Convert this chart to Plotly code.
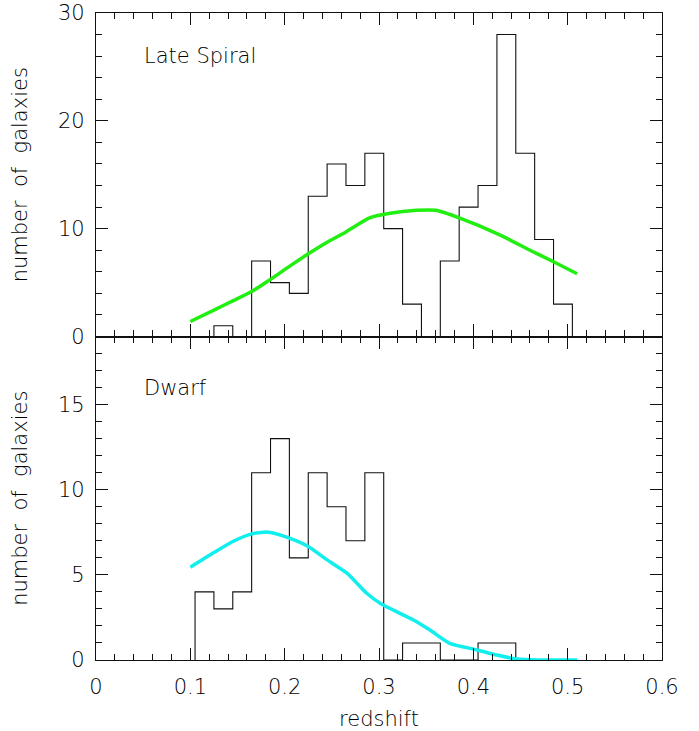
"""Redshift histograms of Late Spiral and Dwarf galaxies with model curves."""

import plotly.graph_objects as go
from plotly.subplots import make_subplots

# --------------------------------------------------------------------------
# Data
# --------------------------------------------------------------------------
# Late Spiral: bin edges and counts
LATE_EDGES = [0.125, 0.145, 0.165, 0.185, 0.205, 0.225, 0.245, 0.265, 0.285, 0.305,
              0.325, 0.345, 0.365, 0.385, 0.405, 0.425, 0.445, 0.465, 0.485, 0.505]
LATE_COUNTS = [1, 0, 7, 5, 4, 13, 16, 14, 17, 10, 3, 0, 7, 12, 14, 28, 17, 9, 3]

# Late Spiral model curve (green)
LATE_MODEL_Z = [0.100, 0.125, 0.145, 0.165, 0.185, 0.205, 0.225, 0.245, 0.265,
                0.290, 0.310, 0.340, 0.360, 0.385, 0.428, 0.460, 0.485, 0.510]
LATE_MODEL_N = [1.39, 2.45, 3.30, 4.17, 5.30, 6.50, 7.67, 8.75, 9.70,
                11.0, 11.4, 11.7, 11.7, 11.0, 9.43, 8.0, 6.93, 5.82]

# Dwarf: bin edges and counts
DWARF_EDGES = [0.105, 0.125, 0.145, 0.165, 0.185, 0.205, 0.225, 0.245, 0.265, 0.285,
               0.305, 0.325, 0.345, 0.365, 0.385, 0.405, 0.425, 0.445]
DWARF_COUNTS = [4, 3, 4, 11, 13, 6, 11, 9, 7, 11, 0, 1, 1, 0, 0, 1, 1]

# Dwarf model curve (cyan)
DWARF_MODEL_Z = [0.100, 0.125, 0.145, 0.165, 0.178, 0.185, 0.205, 0.225, 0.245, 0.266,
                 0.287, 0.302, 0.3365, 0.354, 0.375, 0.404, 0.425, 0.446, 0.470, 0.510]
DWARF_MODEL_N = [5.45, 6.31, 6.96, 7.41, 7.51, 7.49, 7.16, 6.67, 5.88, 5.10,
                 3.92, 3.30, 2.35, 1.76, 0.98, 0.59, 0.29, 0.06, 0.0, 0.0]

X_TICKS = [0, 0.1, 0.2, 0.3, 0.4, 0.5, 0.6]
X_TICK_TEXT = ["0", "0.1", "0.2", "0.3", "0.4", "0.5", "0.6"]
LATE_Y_TICKS = [0, 10, 20, 30]
DWARF_Y_TICKS = [0, 5, 10, 15]

FONT = dict(family="DejaVu Sans", size=21, color="#000000", weight=200)
INK = "#111111"


def step_xy(edges, counts):
    """Outline of a histogram as an hv step path (starts and ends on zero)."""
    return [edges[0]] + list(edges), [0] + list(counts) + [0]


fig = make_subplots(rows=2, cols=1, shared_xaxes=True, vertical_spacing=0)

lx, ly = step_xy(LATE_EDGES, LATE_COUNTS)
fig.add_trace(go.Scatter(x=lx, y=ly, mode="lines", line_shape="hv",
                         line=dict(color="#111111", width=1.1)), row=1, col=1)
fig.add_trace(go.Scatter(x=LATE_MODEL_Z, y=LATE_MODEL_N, mode="lines",
                         line=dict(color="#22ee11", width=3.5, shape="spline",
                                   smoothing=0.6)), row=1, col=1)

dx, dy = step_xy(DWARF_EDGES, DWARF_COUNTS)
fig.add_trace(go.Scatter(x=dx, y=dy, mode="lines", line_shape="hv",
                         line=dict(color="#111111", width=1.1)), row=2, col=1)
fig.add_trace(go.Scatter(x=DWARF_MODEL_Z, y=DWARF_MODEL_N, mode="lines",
                         line=dict(color="#11eeee", width=3.5, shape="spline",
                                   smoothing=0.6)), row=2, col=1)

axis_common = dict(showline=True, linecolor=INK, linewidth=1.2, mirror="ticks",
                   ticks="inside", tickcolor=INK, tickwidth=1.2, ticklen=12,
                   showgrid=False, zeroline=False, tickfont=FONT, automargin=False)

x_common = dict(axis_common, range=[0, 0.6], tickvals=X_TICKS, ticktext=X_TICK_TEXT,
                ticklabelstandoff=8,
                minor=dict(dtick=0.02, ticks="inside", ticklen=6,
                           tickcolor=INK, tickwidth=1.2, showgrid=False))
fig.update_xaxes(x_common)
fig.update_xaxes(showticklabels=False, row=1, col=1)
fig.update_xaxes(title=dict(text="redshift", font=FONT, standoff=20), row=2, col=1)

fig.update_yaxes(axis_common, range=[0, 30], tickvals=LATE_Y_TICKS, ticklabelstandoff=6,
                 minor=dict(dtick=2, ticks="inside", ticklen=6, tickcolor=INK,
                            tickwidth=1.2, showgrid=False),
                 title=dict(text="number  of  galaxies", font=FONT, standoff=24),
                 row=1, col=1)
fig.update_yaxes(axis_common, range=[0, 19], tickvals=DWARF_Y_TICKS, ticklabelstandoff=6,
                 minor=dict(dtick=1, ticks="inside", ticklen=6, tickcolor=INK,
                            tickwidth=1.2, showgrid=False),
                 title=dict(text="number  of  galaxies", font=FONT, standoff=24),
                 row=2, col=1)

fig.add_annotation(text="Late Spiral", x=0.049, y=26.0, xref="x", yref="y",
                   xanchor="left", yanchor="middle", showarrow=False, font=FONT)
fig.add_annotation(text="Dwarf", x=0.049, y=16.0, xref="x2", yref="y2",
                   xanchor="left", yanchor="middle", showarrow=False, font=FONT)

fig.update_layout(width=699, height=731, showlegend=False,
                  paper_bgcolor="white", plot_bgcolor="white",
                  margin=dict(l=96, r=37, t=13, b=71))

# drop the page's default 8px body margin so the figure sits at the corner
fig.write_html("out.html", config={"displayModeBar": False},
               post_script="document.body.style.margin='0';")
